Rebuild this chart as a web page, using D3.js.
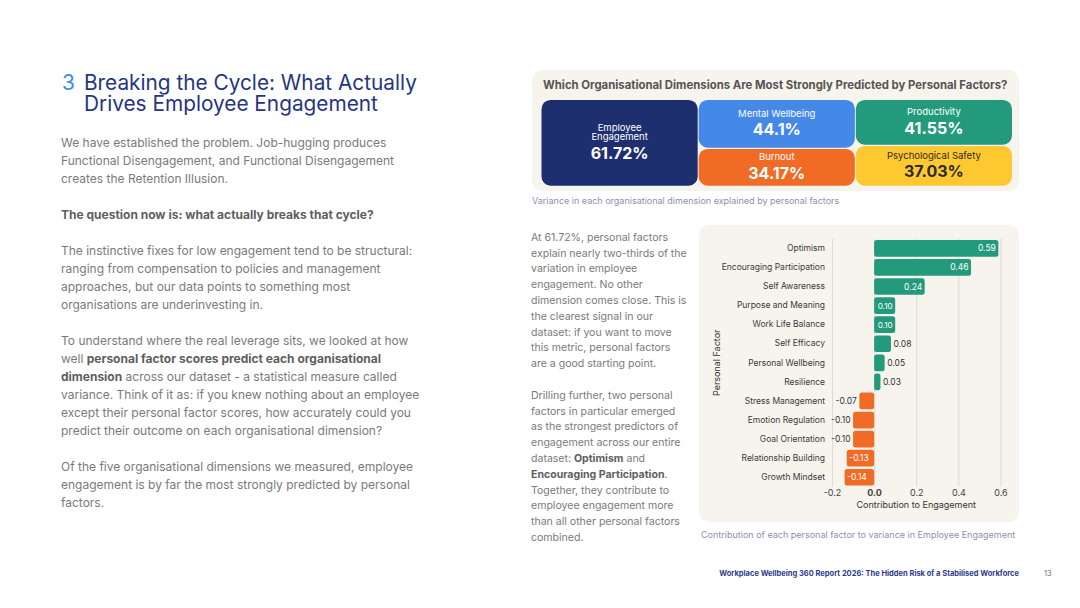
<!DOCTYPE html>
<html>
<head>
<meta charset="utf-8">
<script src="https://d3js.org/d3.v7.min.js"></script>
<style>
  body { margin: 0; background: #fff; }
  svg { display: block; font-family: Inter, "Noto Sans", sans-serif; }
  text { white-space: pre; }
</style>
</head>
<body>
<div id="page"></div>
<script>
// organisational dimensions (variance explained by personal factors, %)
const dimNames = ["Employee\nEngagement", "Mental Wellbeing", "Productivity", "Psychological Safety", "Burnout"];
const dimValues = [61.72, 44.1, 41.55, 37.03, 34.17];
const dimColumn = [0, 1, 2, 2, 1];
const dimColors = ["#1e2f6f", "#4589e8", "#249a7d", "#fdc830", "#f06b25"];
const dimText = ["#fff", "#fff", "#fff", "#2b2b2b", "#fff"];

// personal factor contribution to engagement
const factors = ["Optimism", "Encouraging Participation", "Self Awareness", "Purpose and Meaning",
  "Work Life Balance", "Self Efficacy", "Personal Wellbeing", "Resilience", "Stress Management",
  "Emotion Regulation", "Goal Orientation", "Relationship Building", "Growth Mindset"];
const contributions = [0.59, 0.46, 0.24, 0.10, 0.10, 0.08, 0.05, 0.03, -0.07, -0.10, -0.10, -0.13, -0.14];
const xTicks = [-0.2, 0.0, 0.2, 0.4, 0.6];

const leftLines = [
  "We have established the problem. Job-hugging produces",
  "Functional Disengagement, and Functional Disengagement",
  "creates the Retention Illusion.",
  "",
  "**The question now is: what actually breaks that cycle?**",
  "",
  "The instinctive fixes for low engagement tend to be structural:",
  "ranging from compensation to policies and management",
  "approaches, but our data points to something most",
  "organisations are underinvesting in.",
  "",
  "To understand where the real leverage sits, we looked at how",
  "well **personal factor scores predict each organisational**",
  "**dimension** across our dataset - a statistical measure called",
  "variance. Think of it as: if you knew nothing about an employee",
  "except their personal factor scores, how accurately could you",
  "predict their outcome on each organisational dimension?",
  "",
  "Of the five organisational dimensions we measured, employee",
  "engagement is by far the most strongly predicted by personal",
  "factors."
];

const midLines = [
  "At 61.72%, personal factors",
  "explain nearly two-thirds of the",
  "variation in employee",
  "engagement. No other",
  "dimension comes close. This is",
  "the clearest signal in our",
  "dataset: if you want to move",
  "this metric, personal factors",
  "are a good starting point.",
  "",
  "Drilling further, two personal",
  "factors in particular emerged",
  "as the strongest predictors of",
  "engagement across our entire",
  "dataset: **Optimism** and",
  "**Encouraging Participation**.",
  "Together, they contribute to",
  "employee engagement more",
  "than all other personal factors",
  "combined."
];

const svg = d3.select("#page").append("svg").attr("width", 1080).attr("height", 608);

function drawLines(g, lines, x, y0, lh, size, color, boldColor) {
  lines.forEach((line, i) => {
    if (!line) return;
    const t = g.append("text").attr("x", x).attr("y", y0 + i * lh)
      .attr("font-size", size).attr("fill", color);
    line.split(/(\*\*.+?\*\*)/).filter(s => s).forEach(s => {
      const b = s.startsWith("**");
      t.append("tspan").attr("font-weight", b ? 700 : 400)
        .attr("fill", b ? boldColor : color)
        .text(b ? s.slice(2, -2) : s);
    });
  });
}

// ---- left column
svg.append("text").attr("x", 62).attr("y", 89.5).attr("font-size", 20.8)
  .attr("fill", "#3b8de8").text("3");
const title = svg.append("text").attr("font-size", 20.8).attr("fill", "#253583");
title.append("tspan").attr("x", 84).attr("y", 89.5).text("Breaking the Cycle: What Actually");
title.append("tspan").attr("x", 84).attr("y", 110.5).text("Drives Employee Engagement");

drawLines(svg, leftLines, 61, 147, 18, 12, "#7a7a7a", "#5e5e5e");
drawLines(svg, midLines, 531, 240.7, 15.8, 10.55, "#7a7a7a", "#5e5e5e");

// ---- top card: variance explained
svg.append("rect").attr("x", 532).attr("y", 70).attr("width", 487).attr("height", 121)
  .attr("rx", 10).attr("fill", "#f7f3ed");
svg.append("text").attr("x", 543).attr("y", 88.5).attr("font-size", 11.35).attr("font-weight", 700)
  .attr("fill", "#555").text("Which Organisational Dimensions Are Most Strongly Predicted by Personal Factors?");

const colX = d3.scaleBand().domain([0, 1, 2]).range([541.5, 1012]).paddingInner(0.006);
const tileTop = 99.3, tileBottom = 186.3;
const tiles = svg.append("g");
colX.domain().forEach(c => {
  const idx = dimValues.map((v, i) => i).filter(i => dimColumn[i] === c);
  const yc = d3.scaleLinear().domain([0, d3.sum(idx, i => dimValues[i])]).range([tileTop, tileBottom]);
  let acc = 0;
  idx.forEach(i => {
    const y0 = yc(acc), y1 = yc(acc + dimValues[i]);
    acc += dimValues[i];
    const x0 = colX(c), w = colX.bandwidth();
    tiles.append("rect").attr("x", x0).attr("y", y0 + 0.6).attr("width", w)
      .attr("height", y1 - y0 - 1.2).attr("rx", 9).attr("fill", dimColors[i]);
    const lab = dimNames[i].split("\n");
    const tc = (y0 + y1) / 2 - 2.5;
    const first = tc - (9.5 * (lab.length - 1) + 16) / 2;
    lab.forEach((l, k) => {
      tiles.append("text").attr("x", x0 + w / 2).attr("y", first + k * 9.5 + 3.4)
        .attr("text-anchor", "middle").attr("font-size", 9.5).attr("fill", dimText[i]).text(l);
    });
    tiles.append("text").attr("x", x0 + w / 2)
      .attr("y", first + 9.5 * (lab.length - 1) + 16 + 5.8)
      .attr("text-anchor", "middle").attr("font-size", 16).attr("font-weight", 700)
      .attr("fill", dimText[i]).text(dimValues[i] + "%");
  });
});
svg.append("text").attr("x", 532).attr("y", 204).attr("font-size", 9)
  .attr("fill", "#8d90ad").text("Variance in each organisational dimension explained by personal factors");

// ---- bar chart card
svg.append("rect").attr("x", 699).attr("y", 225).attr("width", 320).attr("height", 297)
  .attr("rx", 10).attr("fill", "#f7f3ed");

const x = d3.scaleLinear().domain([-0.2, 0.6]).range([832, 1000.5]);
const y = d3.scaleBand().domain(factors).range([238.8, 486.8]).paddingInner(0.125).paddingOuter(0.0625);
const plotH = y.range()[1] - y.range()[0];
const green = "#249a7d", orange = "#f06b25";

const plot = svg.append("g");
plot.append("g").attr("transform", `translate(0,${y.range()[1]})`)
  .call(d3.axisBottom(x).tickValues(xTicks).tickSize(-plotH).tickFormat(""))
  .call(g => g.select(".domain").remove())
  .call(g => g.selectAll("line").attr("stroke", "#dedad3").attr("stroke-width", 1));

plot.append("g").attr("transform", `translate(0,${y.range()[1]})`)
  .call(d3.axisBottom(x).tickValues(xTicks).tickSize(0).tickPadding(3).tickFormat(d => d.toFixed(1)))
  .call(g => g.select(".domain").remove())
  .call(g => g.selectAll("text").attr("font-family", "Inter").attr("font-size", 9).attr("fill", "#444")
    .attr("font-weight", d => d === 0 ? 700 : 400));

plot.append("g").attr("transform", `translate(${x.range()[0]},0)`)
  .call(d3.axisLeft(y).tickSize(0).tickPadding(7))
  .call(g => g.select(".domain").remove())
  .call(g => g.selectAll("text").attr("font-family", "Inter").attr("font-size", 8.5).attr("fill", "#3a3a3a"));

const barData = factors.map((f, i) => ({ factor: f, value: contributions[i] }));
plot.selectAll(".bar").data(barData).join("rect").attr("class", "bar")
  .attr("x", d => x(Math.min(0, d.value)))
  .attr("width", d => Math.abs(x(d.value) - x(0)))
  .attr("y", d => y(d.factor)).attr("height", y.bandwidth())
  .attr("rx", 2.5).attr("fill", d => d.value >= 0 ? green : orange);

// value labels: inside the bar when they fit, otherwise just past its end
const fs = 8.5;
plot.selectAll(".vl").data(barData).join("text").attr("class", "vl")
  .attr("font-size", fs).text(d => d.value.toFixed(2))
  .each(function (d) {
    const t = d3.select(this);
    const tw = this.getComputedTextLength();
    const bw = Math.abs(x(d.value) - x(0));
    const cy = y(d.factor) + y.bandwidth() / 2;
    const pos = d.value >= 0;
    if (tw + 3 <= bw) {
      const s = Math.min(1, (bw - 6) / tw);
      t.attr("font-size", fs * s).attr("fill", "#fff")
        .attr("text-anchor", pos ? "end" : "start")
        .attr("x", pos ? x(d.value) - 2.5 : x(d.value) + 2.5)
        .attr("y", cy + 0.36 * fs * s);
    } else {
      t.attr("fill", "#333").attr("text-anchor", pos ? "start" : "end")
        .attr("x", pos ? x(d.value) + 2.5 : x(d.value) - 2.5)
        .attr("y", cy + 0.36 * fs);
    }
  });

plot.append("text").attr("x", (x.range()[0] + x.range()[1]) / 2).attr("y", 508)
  .attr("text-anchor", "middle").attr("font-size", 9).attr("fill", "#333")
  .text("Contribution to Engagement");
plot.append("text").attr("transform", `translate(719.5,${(y.range()[0] + y.range()[1]) / 2}) rotate(-90)`)
  .attr("text-anchor", "middle").attr("font-size", 9).attr("fill", "#333")
  .text("Personal Factor");

svg.append("text").attr("x", 701).attr("y", 537.5).attr("font-size", 9)
  .attr("fill", "#8d90ad").text("Contribution of each personal factor to variance in Employee Engagement");

// ---- footer
svg.append("text").attr("x", 1019).attr("y", 575.5).attr("text-anchor", "end")
  .attr("font-size", 7.5).attr("font-weight", 700).attr("fill", "#2b3a8a")
  .text("Workplace Wellbeing 360 Report 2026: The Hidden Risk of a Stabilised Workforce");
svg.append("text").attr("x", 1044).attr("y", 575.5).attr("font-size", 7.5)
  .attr("fill", "#6a6f8a").text("13");
</script>
</body>
</html>
